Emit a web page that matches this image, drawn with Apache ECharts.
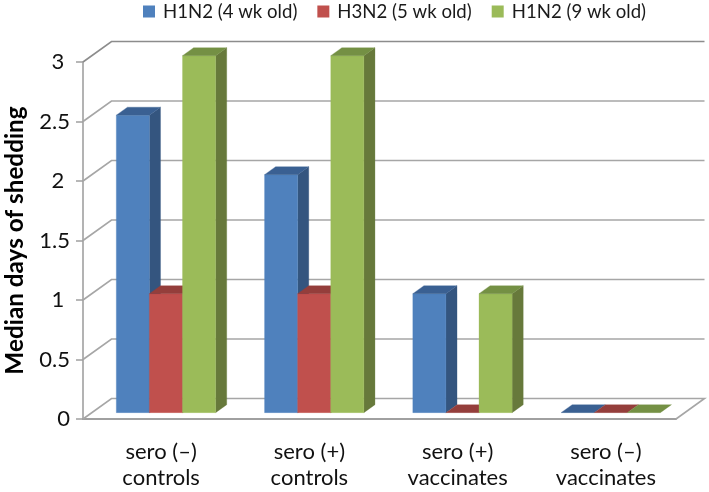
<!DOCTYPE html>
<html>
<head>
<meta charset="utf-8">
<style>html,body{margin:0;padding:0;background:#fff}#c{width:709px;height:492px}</style>
<script src="https://cdn.jsdelivr.net/npm/echarts@6/dist/echarts.min.js"></script>
</head>
<body>
<div id="c"></div>
<script>
const categories = ['sero (–)\ncontrols', 'sero (+)\ncontrols', 'sero (+)\nvaccinates', 'sero (–)\nvaccinates'];
const h1n2Young = [2.5, 2, 1, 0];
const h3n2 = [1, 1, 0, 0];
const h1n2Old = [3, 3, 1, 0];
const yTicks = [0, 0.5, 1, 1.5, 2, 2.5, 3];

const FONT = 'Lato';
const WALL = {dx: 28.5, dy: -20.5};
const BAR = {front: 0.31, depth: 0.39, width: 33.1};

const chart = echarts.init(document.getElementById('c'), null, {renderer: 'canvas'});

function barRenderer(seriesPos, front, side, top) {
  return function (params, api) {
    const cat = api.value(0), val = api.value(1);
    const t = api.coord([cat, val]);
    const b = api.coord([cat, 0]);
    const off = {x: WALL.dx * BAR.front, y: WALL.dy * BAR.front};
    const d = {x: WALL.dx * BAR.depth, y: WALL.dy * BAR.depth};
    const x0 = t[0] + off.x + (seriesPos - 1.5) * BAR.width;
    const x1 = x0 + BAR.width;
    const yt = t[1] + off.y, yb = b[1] + off.y;
    const poly = (pts, fill) => ({type: 'polygon', shape: {points: pts},
      style: {fill: fill, stroke: fill, lineWidth: 0.3}});
    const children = [];
    if (val > 0) {
      children.push(poly([[x1, yt], [x1 + d.x, yt + d.y], [x1 + d.x, yb + d.y], [x1, yb]], side));
      children.push(poly([[x0, yt], [x1, yt], [x1, yb], [x0, yb]], front));
    }
    children.push(poly([[x0, yt], [x0 + d.x, yt + d.y], [x1 + d.x, yt + d.y], [x1, yt]], top));
    return {type: 'group', children: children};
  };
}

function wallRenderer(params, api) {
  const v = api.value(1);
  const p = api.coord([0, v]);
  const cs = params.coordSys;
  const xl = cs.x, xr = cs.x + cs.width, y = p[1];
  const pts = [[xl, y], [xl + WALL.dx, y + WALL.dy], [xr + WALL.dx, y + WALL.dy]];
  if (v === 0) pts.push([xr, y]);
  return {type: 'polyline', shape: {points: pts},
    style: {fill: 'none', stroke: v === 3 ? '#8c8c8c' : '#a6a6a6', lineWidth: 1.6}};
}

const pairs = arr => arr.map((v, i) => [i, v]);

chart.setOption({
  animation: false,
  backgroundColor: '#fff',
  legend: {
    data: ['H1N2 (4 wk old)', 'H3N2 (5 wk old)', 'H1N2 (9 wk old)'],
    left: 138, top: -3,
    itemWidth: 12, itemHeight: 12, itemGap: 20,
    icon: 'rect',
    textStyle: {fontFamily: FONT, fontSize: 18.6, color: '#1a1a1a', padding: [0, 0, 0, 3]}
  },
  grid: {left: 83, right: 33, top: 62, bottom: 73, outerBoundsMode: 'none'},
  xAxis: {
    type: 'category', data: categories,
    axisLine: {lineStyle: {color: '#a0a0a0', width: 2}},
    axisTick: {length: 6, alignWithLabel: false, lineStyle: {color: '#a0a0a0', width: 1.5}},
    axisLabel: {fontFamily: FONT, fontSize: 22, color: '#111', lineHeight: 26, margin: 20, padding: [0, 0, 0, 8], interval: 0},
    splitLine: {show: false}
  },
  yAxis: {
    type: 'value', min: 0, max: 3, interval: 0.5,
    name: 'Median days of shedding', nameLocation: 'middle', nameGap: 56, nameRotate: 90,
    nameTextStyle: {fontFamily: FONT, fontSize: 24.3, fontWeight: 'bold', color: '#000'},
    axisLine: {show: true, lineStyle: {color: '#a0a0a0', width: 1.6}},
    axisTick: {show: true, length: 7, lineStyle: {color: '#a0a0a0', width: 1.5}},
    axisLabel: {fontFamily: FONT, fontSize: 22, color: '#111', margin: 13,
      formatter: v => (Number.isInteger(v) && v > 0) ? v + '\u00a0' : String(v)},
    splitLine: {show: false}
  },
  series: [
    {name: 'wall', type: 'custom', z: 1, silent: true, renderItem: wallRenderer,
      data: yTicks.map(v => [0, v]), encode: {x: 0, y: 1}},
    {name: 'H1N2 (4 wk old)', type: 'custom', z: 3, renderItem: barRenderer(0, '#4f81bd', '#34557f', '#3a6092'),
      itemStyle: {color: '#4f81bd'}, data: pairs(h1n2Young), encode: {x: 0, y: 1}},
    {name: 'H3N2 (5 wk old)', type: 'custom', z: 4, renderItem: barRenderer(1, '#c0504d', '#823634', '#943e3b'),
      itemStyle: {color: '#c0504d'}, data: pairs(h3n2), encode: {x: 0, y: 1}},
    {name: 'H1N2 (9 wk old)', type: 'custom', z: 5, renderItem: barRenderer(2, '#9bbb59', '#67793b', '#749044'),
      itemStyle: {color: '#9bbb59'}, data: pairs(h1n2Old), encode: {x: 0, y: 1}}
  ]
});
</script>
</body>
</html>
